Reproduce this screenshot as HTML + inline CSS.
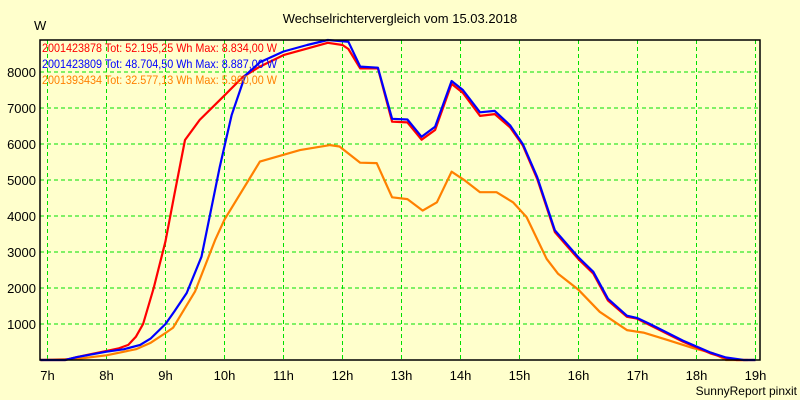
<!DOCTYPE html>
<html><head><meta charset="utf-8"><style>
html,body{margin:0;padding:0;background:#ffffcc;}
svg{display:block;font-family:"Liberation Sans",sans-serif;}
</style></head><body>
<svg id="chart" width="800" height="400" viewBox="0 0 800 400">
<rect x="0" y="0" width="800" height="400" fill="#ffffcc"/>
<text x="400" y="23" text-anchor="middle" font-size="13" fill="#000">Wechselrichtervergleich vom 15.03.2018</text>
<text x="34" y="30" font-size="13" fill="#000">W</text>
<text x="797" y="395" text-anchor="end" font-size="12" fill="#000">SunnyReport pinxit</text>
<g id="grid"></g>
<g id="series"></g>
<g id="axes"></g>
<g id="legend"></g>
</svg>
<script>
const hourTicks=[7,8,9,10,11,12,13,14,15,16,17,18,19];
const valueTicks=[1000,2000,3000,4000,5000,6000,7000,8000];
const redTimes=[6.88,7.3,7.5,7.75,8.0,8.2,8.37,8.5,8.62,8.8,9.0,9.15,9.33,9.58,9.97,10.31,10.6,11.0,11.4,11.75,12.0,12.1,12.3,12.6,12.84,13.1,13.34,13.57,13.85,14.04,14.33,14.58,14.84,15.06,15.3,15.6,16.0,16.25,16.5,16.82,16.99,17.21,17.77,18.23,18.5,18.68,19.0];
const redValues=[0,0,80,170,250,320,420,650,1000,2000,3300,4600,6110,6670,7300,7860,8150,8470,8650,8810,8750,8640,8100,8100,6620,6600,6120,6390,7670,7420,6780,6830,6460,5950,5030,3550,2800,2400,1650,1200,1150,970,510,185,50,0,0];
const blueTimes=[6.88,7.3,7.5,8.0,8.3,8.57,8.75,9.0,9.15,9.36,9.61,9.92,10.12,10.35,10.6,11.0,11.4,11.75,12.1,12.3,12.6,12.84,13.1,13.34,13.57,13.85,14.04,14.33,14.58,14.84,15.06,15.3,15.6,16.0,16.25,16.5,16.82,16.99,17.21,17.77,18.23,18.5,18.8,19.0];
const blueValues=[0,0,80,230,300,420,600,1000,1350,1860,2870,5370,6800,7900,8270,8570,8750,8890,8840,8150,8120,6700,6680,6200,6480,7750,7500,6880,6920,6520,5990,5080,3600,2850,2450,1700,1230,1170,1000,540,210,70,0,0];
const orangeTimes=[6.88,7.5,8.0,8.5,8.75,9.0,9.13,9.5,9.84,10.0,10.6,11.28,11.79,11.95,12.3,12.58,12.84,13.1,13.36,13.6,13.85,14.08,14.33,14.61,14.89,15.12,15.46,15.65,16.0,16.36,16.82,17.1,17.5,17.94,18.28,18.5,18.87];
const orangeValues=[0,30,130,300,480,750,900,1900,3330,3900,5510,5830,5970,5930,5480,5470,4520,4470,4150,4380,5230,4980,4660,4660,4380,3970,2810,2400,1950,1340,830,760,560,330,190,0,0];
const legendLabels=["2001423878 Tot: 52.195,25 Wh Max: 8.834,00 W","2001423809 Tot: 48.704,50 Wh Max: 8.887,00 W","2001393434 Tot: 32.577,13 Wh Max: 5.960,00 W"];
const NS="http://www.w3.org/2000/svg";
const L=40,R=760,T=40,B=360;
function xScale(h){return 47.5+(h-7)*59;}
function yScale(v){return B-v*0.036;}
function mk(tag,attrs,parent){const e=document.createElementNS(NS,tag);for(const k in attrs)e.setAttribute(k,attrs[k]);parent.appendChild(e);return e;}
const grid=document.getElementById('grid'),axes=document.getElementById('axes'),series=document.getElementById('series'),legend=document.getElementById('legend');
hourTicks.forEach(h=>{const x=xScale(h);
 const g=mk('line',{x1:x,x2:x,y1:T,y2:B,stroke:'#00e000','stroke-width':1,'stroke-dasharray':'4,3'},grid);
 
 
 const t=mk('text',{x:x,y:380,'text-anchor':'middle','font-size':13,fill:'#000'},axes);t.textContent=h+'h';
 
 
});
valueTicks.forEach(v=>{const y=yScale(v);
 const g=mk('line',{x1:L,x2:R,y1:y,y2:y,stroke:'#00e000','stroke-width':1,'stroke-dasharray':'4,3'},grid);
 
 
 const t=mk('text',{x:36,y:y+5,'text-anchor':'end','font-size':13,fill:'#000'},axes);t.textContent=v;
 
 
});
const frame=mk('path',{d:`M${L},${B}L${L},${T}L${R},${T}L${R},${B}Z`,fill:'none',stroke:'#000','stroke-width':1.5},axes);


function line(ts,vs,color,name){const d=ts.map((t,i)=>(i?'L':'M')+xScale(t).toFixed(1)+','+yScale(vs[i]).toFixed(1)).join('');
 const p=mk('path',{d:d,fill:'none',stroke:color,'stroke-width':2.2,'stroke-linejoin':'round'},series);
 
 }
line(orangeTimes,orangeValues,'#ff8000','series-2001393434');
line(redTimes,redValues,'#ff0000','series-2001423878');
line(blueTimes,blueValues,'#0000ff','series-2001423809');
const colors=['#ff0000','#0000ff','#ff8000'];
legendLabels.forEach((s,i)=>{const t=mk('text',{x:42,y:52+i*16,'font-size':12,fill:colors[i],textLength:235,lengthAdjust:'spacingAndGlyphs'},legend);t.textContent=s;
 
 });
</script>
</body></html>
